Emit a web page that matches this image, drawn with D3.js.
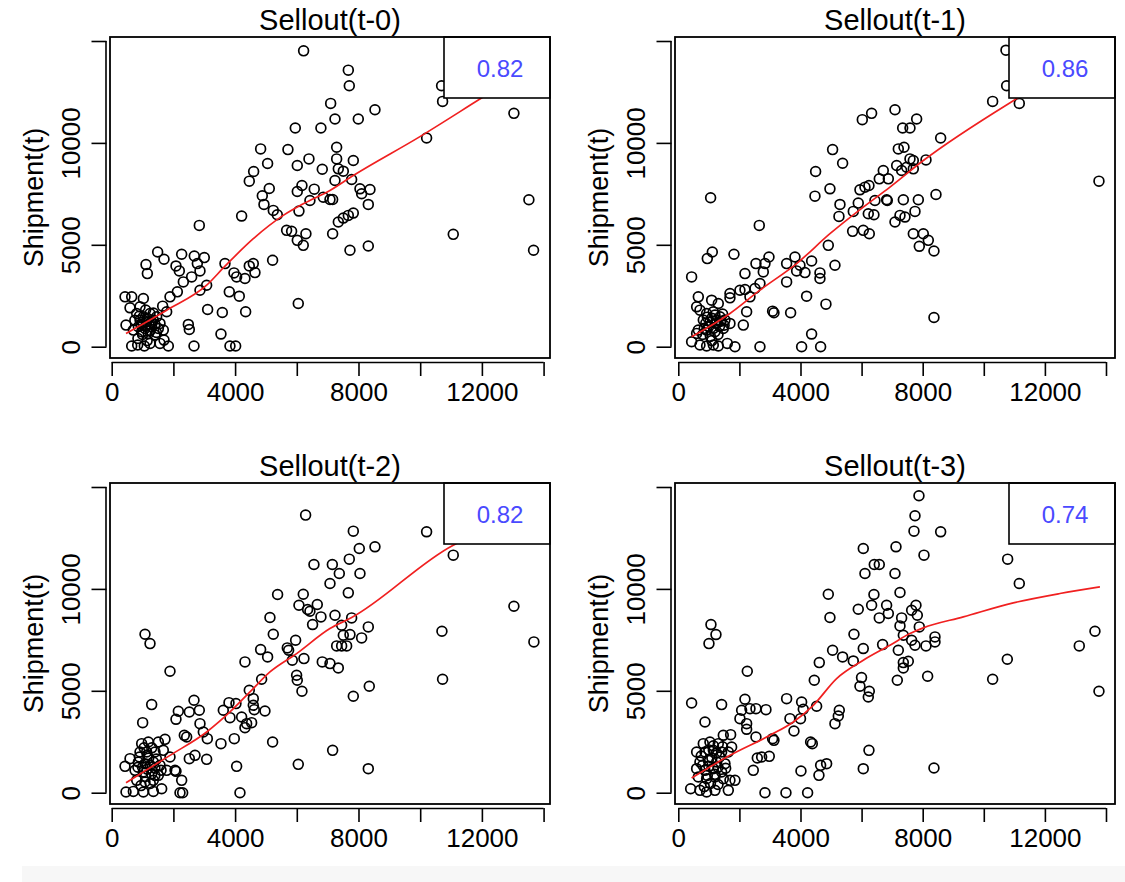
<!DOCTYPE html>
<html>
<head>
<meta charset="utf-8">
<script src="https://cdn.jsdelivr.net/npm/d3@7/dist/d3.min.js"></script>
<style>
  html, body { margin: 0; padding: 0; background: #fff; }
  svg { display: block; }
  text { font-family: "Liberation Sans", Arial, Helvetica, sans-serif; fill: #000; }
</style>
</head>
<body>
<svg id="chart" width="1125" height="882"></svg>
<script>
// ---------------- DATA ----------------
const panelTitles = ["Sellout(t-0)", "Sellout(t-1)", "Sellout(t-2)", "Sellout(t-3)"];
const correlations = ["0.82", "0.86", "0.82", "0.74"];
const yAxisTitle = "Shipment(t)";
const xTickValues = [0, 2000, 4000, 6000, 8000, 10000, 12000, 14000];
const xTickLabels = [0, 4000, 8000, 12000];
const yTickValues = [0, 5000, 10000, 15000];
const yTickLabels = [0, 5000, 10000];

// Panel 1: Sellout(t-0) vs Shipment(t)  [sellout, shipment]
const points0 = [
[6221,14516],[5951,10732],[6782,10732],[4828,9705],[5713,9672],[5054,8987],[4601,8595],[4460,8122],
[6016,8889],[6394,9215],[6826,8709],[5108,7764],[4882,7405],[4936,6981],[5238,6687],[5368,6475],
[6167,7910],[6016,7617],[6566,7731],[6426,7176],[6858,7339],[6070,6655],[5670,5709],[5832,5660],
[6016,5219],[6210,4974],[6296,5545],[6048,2120],[4212,6410],[2840,5953],[5216,4241],[4590,4078],
[4460,3963],[4644,3637],[3672,4078],[3964,3621],[4050,3425],[4320,3344],[3812,2691],[4136,2479],
[4342,1713],[3586,1680],[3110,1827],[3542,620],[3834,33],[4018,33],[2668,33],[2484,1093],
[2516,848],[3078,3017],[2862,2773],[1490,4648],[1696,4290],[1112,4029],[1156,3588],[2268,4534],
[2084,3963],[2192,3719],[2678,4453],[3002,4371],[2776,4078],[2862,3719],[2592,3425],[2322,3180],
[2128,2691],[1890,2447],[1652,1990],[432,2447],[648,2447],[1026,2365],[594,1908],[918,1957],
[464,1060],[810,1631],[1026,1468],[1242,1631],[1458,1468],[918,1305],[1134,1223],[1350,1305],
[1566,1142],[864,979],[1080,897],[1296,979],[1512,897],[702,816],[972,734],[1188,652],
[1404,571],[1674,816],[1782,1713],[648,33],[842,82],[1058,33],[1242,163],[1566,163],
[1836,33],[1696,326],
[1000,1200],[1100,1000],[1200,1100],[1300,1200],[900,1500],[1150,1400],[1400,1100],[1250,800],
[1000,600],[1350,1650],[750,1300],[1450,700],[950,1100],[1150,300],[850,400],[1100,1800],
[7670,13570],[7702,12803],[7098,11939],[8534,11629],[7994,11172],[7238,11172],[7292,9786],[7292,9215],
[7832,9134],[7346,8726],[7508,8612],[7238,8155],[7778,8204],[8048,7747],[8372,7715],[8102,7503],
[8318,6981],[7076,7225],[7162,7225],[7346,6116],[7508,6312],[7670,6442],[7832,6557],[7162,5545],
[7724,4730],[8318,4942],[10208,10243],[10694,12803],[10726,12037],[13038,11450],[13524,7209],
[11072,5513],[13675,4730]
];
// Panel 2: Sellout(t-1)
const points1 = [
[6023,11140],[6328,11450],[5051,9672],[5379,9003],[4495,8595],[4473,7388],[4964,7747],[5292,6981],
[5259,6394],[5728,6638],[5891,7046],[5946,7698],[6110,7829],[6241,7910],[6710,8644],[6579,8236],
[6841,7176],[6437,7176],[6219,6524],[6404,6475],[5706,5660],[6055,5709],[6252,5545],[1058,7307],
[2651,5953],[1113,4648],[949,4322],[1822,4534],[436,3425],[655,2447],[600,1957],[1091,2283],
[1309,2120],[1691,2610],[1691,2398],[2018,2773],[2182,2805],[2346,2447],[2237,1713],[2128,1060],
[1855,0],[2673,0],[2182,3588],[2542,4078],[2837,4078],[2968,4404],[2782,3670],[2673,3099],
[2509,2854],[3087,1745],[3131,1664],[3677,1664],[4200,2479],[4833,2088],[4364,620],[4037,0],
[4659,0],[3546,4078],[3819,4404],[3982,3996],[3546,3180],[4146,3637],[4364,4208],[4637,3621],
[4637,3344],[5128,3996],[4910,4974],[3873,3719],
[709,1794],[927,1631],[1146,1713],[1364,1468],[818,1305],[1036,1223],[1255,1142],[1527,1305],
[655,816],[927,816],[1200,734],[1473,897],[1691,1142],[436,245],[709,82],[927,33],
[1146,82],[1309,33],[1604,163],[600,652],
[1000,1000],[1100,1400],[1250,1300],[1350,1000],[900,1150],[1150,900],[1400,1250],[800,600],
[1050,500],[1300,600],[1200,1550],[950,1450],[1500,1050],[850,900],[1100,300],[1450,1600],
[10726,14549],[10748,12803],[11162,11939],[10290,12037],[7093,11629],[7802,11172],[7344,10732],[7584,10732],
[8588,10243],[7202,9705],[7388,9786],[7148,8889],[7584,9215],[7693,9134],[8108,9166],[6875,8236],
[7311,8644],[7475,8807],[7693,8726],[6820,7209],[7366,7209],[7857,7209],[8435,7470],[7748,6638],
[7257,6442],[7420,6361],[7093,6116],[7693,5545],[8020,5545],[8184,5219],[7889,4926],[8369,4697],
[8369,1435],[13770,8122]
];
// Panel 3: Sellout(t-2)
const points2 = [
[6286,13620],[6556,11197],[5378,9724],[5130,8594],[5238,7776],[6210,9740],[6070,9200],[6350,8987],
[6426,8905],[6664,9233],[6783,8627],[6512,8250],[4828,7023],[5054,6662],[4320,6417],[5692,7105],
[5735,6990],[5962,7481],[5854,6499],[6232,6581],[6826,6417],[5994,5762],[6016,5517],[6167,4976],
[4860,5566],[4460,5026],[4590,4616],[4590,4289],[4622,4076],[4968,4011],[3802,4420],[4028,4371],
[3618,4044],[3834,3683],[4212,3716],[4374,3389],[4536,3438],[4320,3192],[3974,2652],[3542,2406],
[5216,2488],[6048,1391],[4050,1293],[4158,0],[1080,7776],[1242,7317],[1890,5959],[1296,4322],
[1004,3438],[2160,3994],[2084,3601],[2516,3962],[2668,4534],[2840,4044],[2862,3389],[2970,2979],
[3100,2652],[2354,2816],[2430,2734],[2700,1833],[2516,1670],[3078,1637],[2084,1048],[2268,606],
[2214,0],[2300,0],[432,1293],[594,1670],[464,33],
[972,2406],[1188,2488],[1512,2488],[1728,2619],[918,1997],[1134,1997],[1404,1997],[1674,2079],
[1890,1752],[864,1506],[1080,1424],[1350,1506],[1566,1342],[756,1097],[1026,1015],[1296,933],
[1512,851],[1782,1097],[2052,1097],[810,606],[1080,524],[1350,606],[1620,196],[702,65],
[1026,33],[1350,65],
[1000,1250],[1150,1150],[1250,1350],[1400,1200],[900,1750],[1200,1700],[1450,1650],[1100,800],
[1250,450],[950,350],[1400,850],[1600,1100],[1050,2200],[1300,2200],[850,1250],[1150,1850],
[7832,12834],[10208,12801],[11072,11655],[8534,12065],[8026,11983],[7702,11459],[7152,11197],[7378,10755],
[8048,10755],[7076,10264],[7670,9806],[7238,8709],[7778,8578],[7454,8218],[8318,8136],[7508,7727],
[7724,7759],[8102,7596],[7292,7203],[7616,7203],[7454,7203],[7076,6335],[7346,6122],[8350,5222],
[7832,4731],[7162,2079],[8318,1179],[13038,9151],[13686,7399],[10705,7923],[10726,5566]
];
// Panel 4: Sellout(t-3)
const points3 = [
[6055,11983],[6415,11197],[6579,11197],[6110,10755],[4910,9740],[4964,8594],[5891,9004],[6328,9200],
[6404,9724],[6579,8578],[6819,9200],[5750,7776],[6055,7072],[6688,7268],[5051,6990],[5379,6662],
[5728,6466],[4615,6384],[4451,5517],[5998,5648],[5946,5222],[6252,4976],[6219,4698],[4528,4240],
[3546,4616],[4037,4453],[4091,4093],[3655,3634],[4000,3634],[3786,3028],[5270,4044],[5237,3765],
[5128,3389],[4331,2488],[4386,2406],[6241,2079],[6055,1179],[4855,1424],[4659,1342],[4604,851],
[4015,1064],[2837,0],[3524,0],[4233,0],[1069,8250],[1233,7759],[1004,7317],[2258,5959],
[436,4404],[1418,4322],[873,3470],[2182,4584],[2073,4044],[2346,4125],[2542,4125],[2869,4076],
[2018,3634],[2237,3389],[2237,3110],[2542,2734],[3087,2652],[3131,2570],[2728,1752],[2586,1702],
[2978,1784],[2455,1097],[1473,2816],[1713,2848],[1746,2243],[1855,606],[1637,115],[404,196],
[818,2406],[1036,2488],[1309,2406],[600,1997],[873,1997],[1146,2079],[1418,1997],[1637,1997],
[709,1506],[982,1588],[1255,1506],[1527,1424],[600,1179],[873,1097],[1146,1179],[1418,1015],
[655,769],[927,688],[1200,769],[1473,688],[709,115],[927,33],[1200,115],[1691,606],
[1000,1300],[1100,1700],[1300,1250],[1200,900],[800,1350],[950,850],[1350,1750],[1050,450],
[1300,400],[850,300],[1150,2300],[1450,2250],[750,1800],[1000,2100],[1250,1950],[1550,1200],
[7878,14569],[7748,13587],[7715,12834],[8588,12801],[7126,12065],[8042,11655],[7093,10755],[7257,9822],
[6875,8791],[7311,8578],[7638,8955],[7780,9200],[7824,8709],[7257,8185],[7889,8136],[7366,7727],
[7638,7481],[7748,7236],[8108,7203],[8402,7645],[8402,7399],[7202,6990],[7366,6384],[7529,6450],
[7366,6122],[7169,5517],[8162,5713],[8369,1211],[10781,11459],[11162,10264],[10770,6548],[10290,5566],
[13126,7203],[13639,7923],[13770,4976]
];

// Smoothed (lowess) fits
const smooth0 = [[464,652],[1782,1794],[3078,3017],[3672,3950],[4590,5300],[5562,6442],[6210,7013],[7074,7665],[7832,8400],[9992,10308],[11936,12150],[13675,13800]];
const smooth1 = [[436,489],[1691,1631],[2673,2773],[3873,4078],[4964,5545],[6055,6850],[6928,7829],[8020,9134],[10966,12069],[13770,14500]];
const smooth2 = [[464,491],[1890,1833],[3078,2979],[3834,3962],[4482,4944],[5130,5926],[5994,6826],[7074,8054],[7778,8594],[11072,12146],[13686,13600]];
const smooth3 = [[436,720],[1691,1833],[3000,2816],[3764,3470],[4419,4289],[5182,5598],[6055,6499],[6928,7236],[7584,7808],[8020,8087],[9330,8627],[10966,9314],[12493,9773],[13802,10100]];

const allPoints = [points0, points1, points2, points3];
const allSmooth = [smooth0, smooth1, smooth2, smooth3];

// ---------------- LAYOUT ----------------
const panelW = 440, panelH = 321;
const layout = [
  { left: 110, top: 37,  xDomain: [-55, 14208] },
  { left: 675, top: 37,  xDomain: [-108, 14295] },
  { left: 110, top: 483, xDomain: [-55, 14208] },
  { left: 675, top: 483, xDomain: [-108, 14295] }
];
const yDomain = [-554, 15196];

const svg = d3.select("#chart");

// faint gray strip at the bottom
svg.append("rect").attr("x", 22).attr("y", 866).attr("width", 1103).attr("height", 16).attr("fill", "#f7f7f7");

layout.forEach((p, i) => {
  const L = p.left, T = p.top, R = L + panelW, B = T + panelH;
  const x = d3.scaleLinear().domain(p.xDomain).range([L, R]);
  const y = d3.scaleLinear().domain(yDomain).range([B, T]);
  const g = svg.append("g");

  const clipId = "clip" + i;
  svg.append("clipPath").attr("id", clipId).append("rect")
     .attr("x", L).attr("y", T).attr("width", panelW).attr("height", panelH);

  // points
  g.append("g").attr("clip-path", `url(#${clipId})`)
    .selectAll("circle").data(allPoints[i]).join("circle")
    .attr("cx", d => x(d[0])).attr("cy", d => y(d[1])).attr("r", 4.9)
    .attr("fill", "none").attr("stroke", "#000").attr("stroke-width", 1.7);

  // smooth line
  const line = d3.line().x(d => x(d[0])).y(d => y(d[1])).curve(d3.curveMonotoneX);
  g.append("path").attr("clip-path", `url(#${clipId})`)
    .attr("d", line(allSmooth[i])).attr("fill", "none")
    .attr("stroke", "#f02020").attr("stroke-width", 1.7);

  // legend box (top-right)
  const lgW = 106, lgH = 61;
  g.append("rect").attr("x", R - lgW).attr("y", T).attr("width", lgW).attr("height", lgH)
    .attr("fill", "#fff").attr("stroke", "#000").attr("stroke-width", 1.6);
  g.append("text").attr("x", R - lgW / 2 + 3).attr("y", T + 40)
    .attr("text-anchor", "middle").style("font-size", "24px").style("fill", "#4a4aff")
    .text(correlations[i]);

  // frame
  g.append("rect").attr("x", L).attr("y", T).attr("width", panelW).attr("height", panelH)
    .attr("fill", "none").attr("stroke", "#000").attr("stroke-width", 1.8);

  // x axis (offset below the frame)
  const xAxis = d3.axisBottom(x).tickValues(xTickValues).tickSize(14).tickPadding(5)
    .tickFormat(d => xTickLabels.includes(d) ? String(d) : "");
  const xg = g.append("g").attr("transform", `translate(0,${B + 4})`).call(xAxis);
  xg.select(".domain").attr("d", `M${x(0)},0.5H${x(14000)}`).attr("stroke-width", 1.6);
  xg.selectAll(".tick line").attr("stroke-width", 1.6);
  xg.selectAll(".tick text").style("font-size", "26px").style("font-family", "'Liberation Sans', Arial, sans-serif").attr("dy", "0.75em");

  // y axis (offset left of the frame)
  const yAxis = d3.axisLeft(y).tickValues(yTickValues).tickSize(15).tickPadding(0)
    .tickFormat(d => yTickLabels.includes(d) ? String(d) : "");
  const yg = g.append("g").attr("transform", `translate(${L - 3.5},0)`).call(yAxis);
  yg.select(".domain").attr("d", `M-0.5,${y(0)}V${y(15000)}`).attr("stroke-width", 1.6);
  yg.selectAll(".tick line").attr("stroke-width", 1.6);
  yg.selectAll(".tick text")
    .attr("x", null).attr("dy", null)
    .attr("text-anchor", "middle")
    .attr("transform", "translate(-27,0) rotate(-90)")
    .style("font-size", "26px").style("font-family", "'Liberation Sans', Arial, sans-serif");

  // y title
  g.append("text").attr("transform", `translate(${L - 67},${(T + B) / 2}) rotate(-90)`)
    .attr("text-anchor", "middle").style("font-size", "27px").text(yAxisTitle);

  // panel title
  g.append("text").attr("x", (L + R) / 2).attr("y", T - 7)
    .attr("text-anchor", "middle").style("font-size", "29px").text(panelTitles[i]);
});
</script>
</body>
</html>
